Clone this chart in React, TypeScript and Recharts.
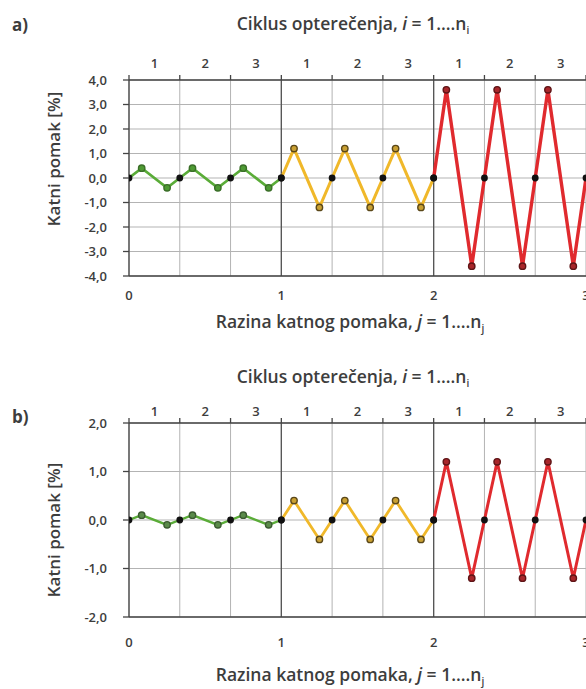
import React from "react";
import { LineChart, Line, XAxis, YAxis, CartesianGrid, ReferenceLine } from "recharts";

// x position of each point inside one drift level (0..1)
const stepPhase = [0, 0.0833, 0.25, 0.3333, 0.4167, 0.5833, 0.6667, 0.75, 0.9167, 1];
const levels = [0, 1, 2];
const cycleNames = ["1", "2", "3"];
const levelTicks = [0, 1, 2, 3];
const cycleTicks = [0, 1 / 3, 2 / 3, 1, 4 / 3, 5 / 3, 2, 7 / 3, 8 / 3, 3];

// panel a) drift values [%]
const driftA1 = [0, 0.4, -0.4, 0, 0.4, -0.4, 0, 0.4, -0.4, 0];
const driftA2 = [0, 1.2, -1.2, 0, 1.2, -1.2, 0, 1.2, -1.2, 0];
const driftA3 = [0, 3.6, -3.6, 0, 3.6, -3.6, 0, 3.6, -3.6, 0];
const yTicksA = [-4, -3, -2, -1, 0, 1, 2, 3, 4];

// panel b) drift values [%]
const driftB1 = [0, 0.1, -0.1, 0, 0.1, -0.1, 0, 0.1, -0.1, 0];
const driftB2 = [0, 0.4, -0.4, 0, 0.4, -0.4, 0, 0.4, -0.4, 0];
const driftB3 = [0, 1.2, -1.2, 0, 1.2, -1.2, 0, 1.2, -1.2, 0];
const yTicksB = [-2, -1, 0, 1, 2];

const FONT = "'Open Sans', sans-serif";
const TXT = "#3d3d3d";
const W = 600;
const LEFT = 129;
const RIGHT = 14;
const PLOT_W = W - LEFT - RIGHT;
const TOP_H = 20;
const BOT_H = 30;
const Y_W = 60;

const toRows = (level: number, values: number[]) =>
  values.map((y, k) => ({ x: level + stepPhase[k], y }));

const fmt = (v: number) => v.toFixed(1).replace(".", ",");

const makeDot = (fill: string, edge: string) => (props: any) => {
  const { cx, cy, payload, index } = props;
  if (payload.y === 0) {
    return <circle key={`z-${index}`} cx={cx} cy={cy} r={3.4} fill="#111" />;
  }
  return <circle key={`p-${index}`} cx={cx} cy={cy} r={3.2} fill={fill} stroke={edge} strokeWidth={1.4} />;
};

const TopTick = (props: any) => {
  const { x, y, payload } = props;
  if (payload.value > 2.99) return <g />;
  const idx = Math.round(payload.value * 3) % 3;
  return (
    <text x={x + PLOT_W / 18} y={y} textAnchor="middle" fontSize={13} fontWeight={600} fill={TXT} fontFamily={FONT}>
      {cycleNames[idx]}
    </text>
  );
};

type Series = { values: number[]; color: string; dotFill: string; edge: string; width: number };

const Panel = ({ top, height, plotTop, plotBottom, yTicks, series, topGap, botGap }: any) => (
  <div style={{ position: "absolute", left: 0, top, width: W, height }}>
    <LineChart
      width={W}
      height={height}
      margin={{ top: plotTop - TOP_H, right: RIGHT, bottom: height - plotBottom - BOT_H, left: LEFT - Y_W }}
    >
      <CartesianGrid xAxisId="cyc" stroke="#b3b3b3" strokeWidth={1} />
      <XAxis
        xAxisId="cyc"
        orientation="top"
        type="number"
        dataKey="x"
        domain={[0, 3]}
        allowDataOverflow
        ticks={cycleTicks}
        height={TOP_H}
        tickSize={5}
        tickMargin={topGap}
        tick={<TopTick />}
        stroke="#444"
        strokeWidth={1.3}
        interval={0}
      />
      <XAxis
        type="number"
        dataKey="x"
        domain={[0, 3]}
        allowDataOverflow
        ticks={levelTicks}
        height={BOT_H}
        tickLine={false}
        tickMargin={botGap}
        tick={{ fontSize: 13, fontWeight: 600, fill: TXT, fontFamily: FONT }}
        stroke="#444"
        strokeWidth={1.3}
        interval={0}
      />
      <YAxis
        type="number"
        domain={[yTicks[0], yTicks[yTicks.length - 1]]}
        allowDataOverflow
        ticks={yTicks}
        width={Y_W}
        tickSize={6}
        tickMargin={16}
        tickFormatter={fmt}
        tick={{ fontSize: 13, fontWeight: 600, fill: TXT, fontFamily: FONT }}
        stroke="#444"
        strokeWidth={1.3}
        interval={0}
      />
      <ReferenceLine x={1} stroke="#555" strokeWidth={1.3} />
      <ReferenceLine x={2} stroke="#555" strokeWidth={1.3} />
      {series.map((s: Series, i: number) => (
        <Line
          key={i}
          data={toRows(levels[i], s.values)}
          dataKey="y"
          type="linear"
          stroke={s.color}
          strokeWidth={s.width}
          dot={makeDot(s.dotFill, s.edge)}
          activeDot={false}
          isAnimationActive={false}
        />
      ))}
    </LineChart>
  </div>
);

const GREEN = "#5aac38";
const YELLOW = "#f0b82a";
const RED = "#e02a2e";

const seriesA: Series[] = [
  { values: driftA1, color: GREEN, dotFill: "#4e9a33", edge: "#3a6e28", width: 2.6 },
  { values: driftA2, color: YELLOW, dotFill: "#c9a032", edge: "#5a4718", width: 3 },
  { values: driftA3, color: RED, dotFill: "#a8262a", edge: "#5e1517", width: 3.4 },
];
const seriesB: Series[] = [
  { values: driftB1, color: GREEN, dotFill: "#5a8a4a", edge: "#3b5a30", width: 2.4 },
  { values: driftB2, color: YELLOW, dotFill: "#c9a032", edge: "#5a4718", width: 2.8 },
  { values: driftB3, color: RED, dotFill: "#a8262a", edge: "#5e1517", width: 3 },
];

const Title = ({ x, y, main, sym, sub }: any) => (
  <text x={x} y={y} textAnchor="middle" fontSize={17.5} fontWeight={600} fill={TXT} fontFamily={FONT}>
    {main}
    <tspan fontStyle="italic">{sym}</tspan>
    {" = 1....n"}
    <tspan fontSize={10} dy={4}>{sub}</tspan>
  </text>
);

export default function App() {
  return (
    <div style={{ position: "absolute", left: 0, top: 0, width: 586, height: 689, overflow: "hidden", background: "#fff" }}>
      <Panel top={0} height={340} plotTop={80} plotBottom={276} yTicks={yTicksA} series={seriesA} topGap={7} botGap={9} />
      <Panel top={340} height={349} plotTop={83} plotBottom={277} yTicks={yTicksB} series={seriesB} topGap={2} botGap={15} />
      <svg width={586} height={689} style={{ position: "absolute", left: 0, top: 0, pointerEvents: "none" }}>
        <text x={12} y={31} fontSize={17} fontWeight={700} fill={TXT} fontFamily={FONT}>a)</text>
        <text x={12} y={423} fontSize={17} fontWeight={700} fill={TXT} fontFamily={FONT}>b)</text>
        <Title x={353} y={30} main="Ciklus opterečenja, " sym="i" sub="i" />
        <Title x={353} y={383} main="Ciklus opterečenja, " sym="i" sub="i" />
        <Title x={350} y={328} main="Razina katnog pomaka, " sym="j" sub="j" />
        <Title x={350} y={681} main="Razina katnog pomaka, " sym="j" sub="j" />
        <text
          transform="translate(60,159) rotate(-90)"
          textAnchor="middle"
          fontSize={17}
          fontWeight={600}
          fill={TXT}
          fontFamily={FONT}
        >
          Katni pomak [%]
        </text>
        <text
          transform="translate(60,530) rotate(-90)"
          textAnchor="middle"
          fontSize={17}
          fontWeight={600}
          fill={TXT}
          fontFamily={FONT}
        >
          Katni pomak [%]
        </text>
      </svg>
    </div>
  );
}
